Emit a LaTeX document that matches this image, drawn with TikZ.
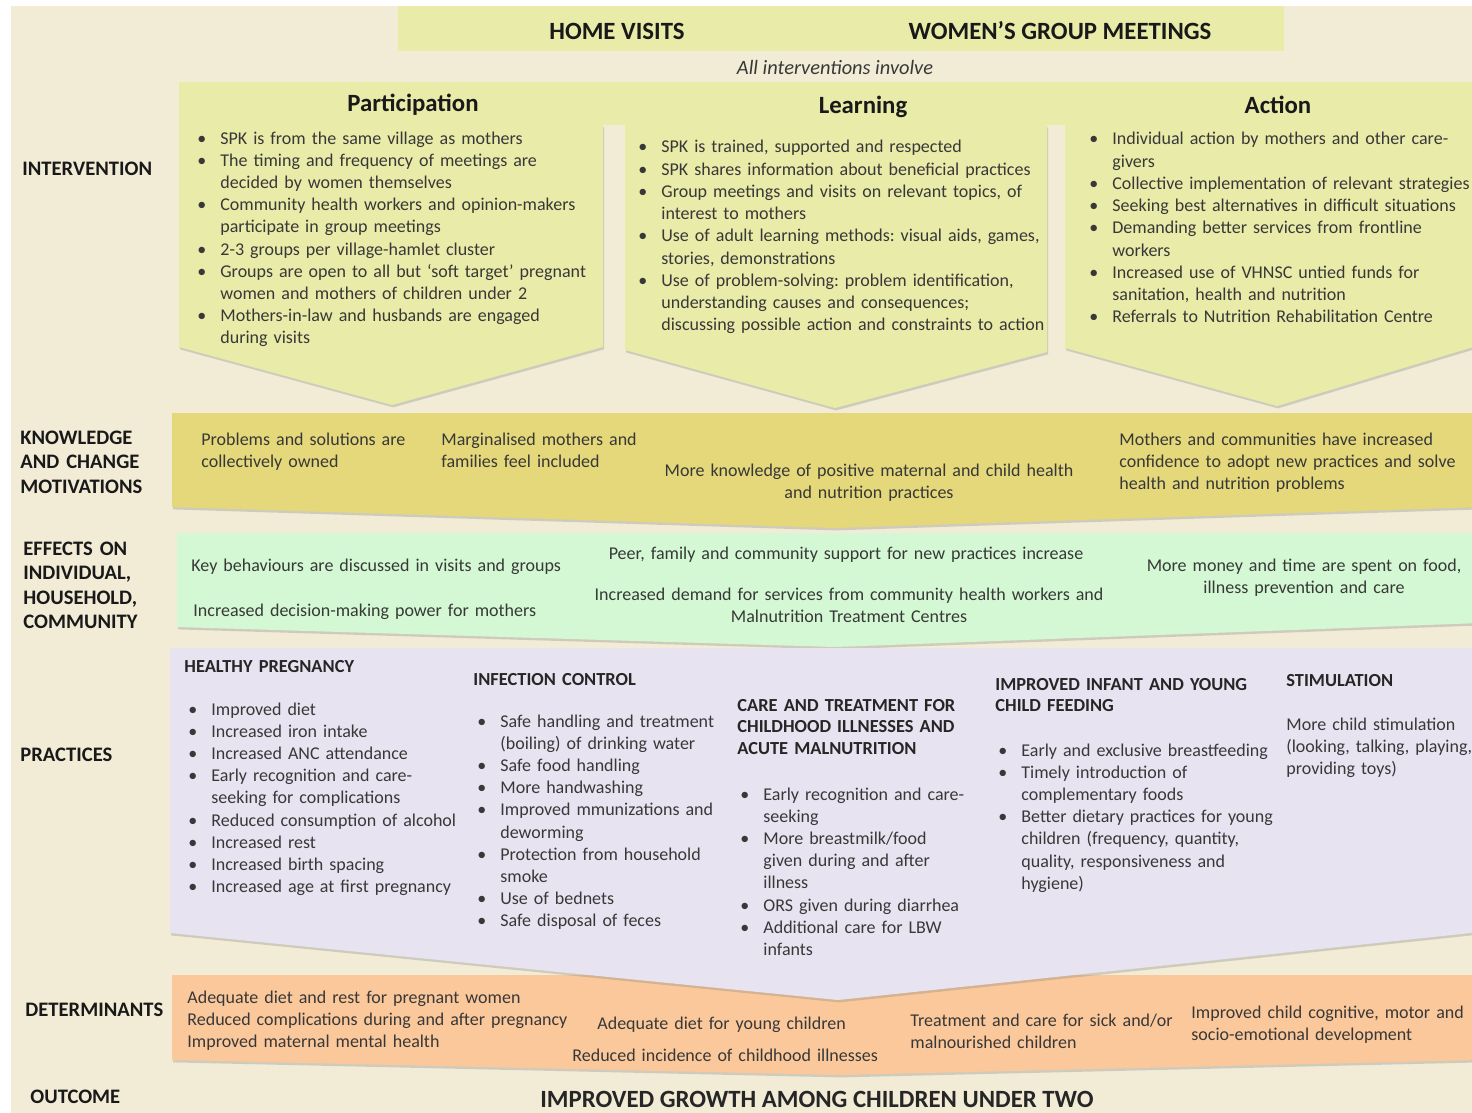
\documentclass[tikz,border=0pt]{standalone}
\usepackage{fontspec}
\setmainfont{Carlito}
\usetikzlibrary{shadows}
\frenchspacing

\definecolor{pagebg}{HTML}{F2ECD6}
\definecolor{visitbg}{HTML}{E9EBA8}
\definecolor{knowbg}{HTML}{E4D87A}
\definecolor{effectbg}{HTML}{D3F8D3}
\definecolor{practbg}{HTML}{E8E3F0}
\definecolor{detbg}{HTML}{FAC89B}
\definecolor{bodygrey}{HTML}{383838}

\newcommand{\bodysize}{\fontsize{9}{11.1}\selectfont}
\newcommand{\rowsize}{\fontsize{10.3}{12.25}\selectfont\bfseries}
\newcommand{\headsize}{\fontsize{9.2}{10.75}\selectfont\bfseries}
\newcommand{\bitem}[1]{\hangindent=11.5pt\hangafter=1\makebox[11.5pt][l]{\textbullet}#1\par}

\tikzset{
  txt/.style={font=\bodysize, text=bodygrey, inner sep=0pt, anchor=base west, align=left, text width=250pt},
  ctxt/.style={txt, anchor=base, align=center, text width=320pt},
  rowlabel/.style={font=\rowsize, text=black!90, inner sep=0pt, anchor=base west, align=left, text width=80pt},
  prachead/.style={font=\headsize, text=black!85, inner sep=0pt, anchor=base west, align=left, text width=150pt},
  bandtitle/.style={font=\fontsize{12.4}{14}\selectfont\bfseries, text=black!90, inner sep=0pt},
  bandshadow/.style={drop shadow={shadow xshift=0.5pt, shadow yshift=-1.2pt, opacity=0.3}},
}

\begin{document}
\begin{tikzpicture}[x=0.5pt, y=-0.5pt]
  \path[use as bounding box] (0,0) rectangle (1472,1113);
  \clip (0,0) rectangle (1472,1113);
  \fill[pagebg] (11,6) rectangle (1472,1113);

  % bands
  \fill[visitbg] (398,6) rectangle (1284,51);
  \fill[visitbg] (179,82) rectangle (1472,125);
  \fill[visitbg, bandshadow] (179,125) -- (603,125) -- (603,347) -- (392,405) -- (179,347) -- cycle;
  \fill[visitbg, bandshadow] (625,125) -- (1047,125) -- (1047,352) -- (835,408) -- (625,350) -- cycle;
  \fill[visitbg, bandshadow] (1065,125) -- (1480,125) -- (1480,345) -- (1277,406) -- (1065,348) -- cycle;
  \fill[knowbg, bandshadow] (172,413) -- (1480,413) -- (1480,507) -- (835,528) -- (172,507) -- cycle;
  \fill[effectbg, bandshadow] (177,533) -- (1480,533) -- (1480,623) -- (835,647) -- (177,627) -- cycle;
  \fill[detbg, bandshadow] (172,975) -- (1480,975) -- (1480,1060) -- (840,1075) -- (172,1060) -- cycle;
  \fill[practbg, bandshadow] (170,648) -- (1480,648) -- (1480,932) -- (838,1000) -- (170,933) -- cycle;

  % top
  \node[bandtitle] (home) at (617,31) {HOME VISITS};
  \node[bandtitle] (women) at (1060,31) {WOMEN’S GROUP MEETINGS};
  \node[font=\fontsize{10.2}{12}\selectfont\itshape, text=bodygrey, inner sep=0pt] (involve) at (835,67) {All interventions involve};
  \node[bandtitle] (particip) at (413,105) {Participation};
  \node[bandtitle] (learning) at (863,107) {Learning};
  \node[bandtitle] (action) at (1278,105) {Action};

  % row labels
  \node[rowlabel] (lintervention) at (22,176) {INTERVENTION};
  \node[rowlabel] (lknowledge) at (20,444) {KNOWLEDGE\newline AND CHANGE\newline MOTIVATIONS};
  \node[rowlabel] (leffects) at (23,555) {EFFECTS ON\newline INDIVIDUAL,\newline HOUSEHOLD,\newline COMMUNITY};
  \node[rowlabel] (lpractices) at (20,761) {PRACTICES};
  \node[rowlabel] (ldeterminants) at (25,1016) {DETERMINANTS};
  \node[rowlabel] (loutcome) at (30,1103) {OUTCOME};

  % intervention
  \node[txt] (participlist) at (197,144) {%
    \bitem{SPK is from the same village as mothers}
    \bitem{The timing and frequency of meetings are\newline decided by women themselves}
    \bitem{Community health workers and opinion-makers\newline participate in group meetings}
    \bitem{2-3 groups per village-hamlet cluster}
    \bitem{Groups are open to all but ‘soft target’ pregnant\newline women and mothers of children under 2}
    \bitem{Mothers-in-law and husbands are engaged\newline during visits}};
  \node[txt] (learninglist) at (638,153) {%
    \bitem{SPK is trained, supported and respected}
    \bitem{SPK shares information about beneficial practices}
    \bitem{Group meetings and visits on relevant topics, of\newline interest to mothers}
    \bitem{Use of adult learning methods: visual aids, games,\newline stories, demonstrations}
    \bitem{Use of problem-solving: problem identification,\newline understanding causes and consequences;\newline discussing possible action and constraints to action}};
  \node[txt] (actionlist) at (1089,145) {%
    \bitem{Individual action by mothers and other care-\newline givers}
    \bitem{Collective implementation of relevant strategies}
    \bitem{Seeking best alternatives in difficult situations}
    \bitem{Demanding better services from frontline\newline workers}
    \bitem{Increased use of VHNSC untied funds for\newline sanitation, health and nutrition}
    \bitem{Referrals to Nutrition Rehabilitation Centre}};

  % knowledge
  \node[txt] (owned) at (201,445) {Problems and solutions are\newline collectively owned};
  \node[txt] (included) at (441,445) {Marginalised mothers and\newline families feel included};
  \node[ctxt] (knowledge) at (869,476) {More knowledge of positive maternal and child health\\and nutrition practices};
  \node[txt] (confidence) at (1119,445) {Mothers and communities have increased\newline confidence to adopt new practices and solve\newline health and nutrition problems};

  % effects
  \node[txt] (discussed) at (191,571) {Key behaviours are discussed in visits and groups};
  \node[txt] (decision) at (193,616) {Increased decision-making power for mothers};
  \node[ctxt] (support) at (846,559) {Peer, family and community support for new practices increase};
  \node[ctxt] (demand) at (849,600) {Increased demand for services from community health workers and\\Malnutrition Treatment Centres};
  \node[ctxt] (money) at (1304,571) {More money and time are spent on food,\\illness prevention and care};

  % practices
  \node[prachead] (hpregnancy) at (184,672) {HEALTHY PREGNANCY};
  \node[txt] (pregnancylist) at (188,715) {%
    \bitem{Improved diet}
    \bitem{Increased iron intake}
    \bitem{Increased ANC attendance}
    \bitem{Early recognition and care-\newline seeking for complications}
    \bitem{Reduced consumption of alcohol}
    \bitem{Increased rest}
    \bitem{Increased birth spacing}
    \bitem{Increased age at first pregnancy}};
  \node[prachead] (hinfection) at (473,685) {INFECTION CONTROL};
  \node[txt] (infectionlist) at (477,727) {%
    \bitem{Safe handling and treatment\newline (boiling) of drinking water}
    \bitem{Safe food handling}
    \bitem{More handwashing}
    \bitem{Improved mmunizations and\newline deworming}
    \bitem{Protection from household\newline smoke}
    \bitem{Use of bednets}
    \bitem{Safe disposal of feces}};
  \node[prachead] (hcare) at (737,711) {CARE AND TREATMENT FOR\newline CHILDHOOD ILLNESSES AND\newline ACUTE MALNUTRITION};
  \node[txt] (carelist) at (740,800) {%
    \bitem{Early recognition and care-\newline seeking}
    \bitem{More breastmilk/food\newline given during and after\newline illness}
    \bitem{ORS given during diarrhea}
    \bitem{Additional care for LBW\newline infants}};
  \node[prachead] (hfeeding) at (995,690) {IMPROVED INFANT AND YOUNG\newline CHILD FEEDING};
  \node[txt] (feedinglist) at (998,756) {%
    \bitem{Early and exclusive breastfeeding}
    \bitem{Timely introduction of\newline complementary foods}
    \bitem{Better dietary practices for young\newline children (frequency, quantity,\newline quality, responsiveness and\newline hygiene)}};
  \node[prachead] (hstimulation) at (1286,686) {STIMULATION};
  \node[txt] (stimulation) at (1286,730) {More child stimulation\newline (looking, talking, playing,\newline providing toys)};

  % determinants
  \node[txt] (maternal) at (187,1003) {Adequate diet and rest for pregnant women\newline Reduced complications during and after pregnancy\newline Improved maternal mental health};
  \node[txt] (diet) at (597,1029) {Adequate diet for young children};
  \node[txt] (illness) at (572,1061) {Reduced incidence of childhood illnesses};
  \node[txt] (treatment) at (910,1026) {Treatment and care for sick and/or\newline malnourished children};
  \node[txt] (development) at (1191,1018) {Improved child cognitive, motor and\newline socio-emotional development};

  % outcome
  \node[font=\fontsize{12.4}{14}\selectfont\bfseries, text=black!85, inner sep=0pt] (growth) at (817,1099) {IMPROVED GROWTH AMONG CHILDREN UNDER TWO};
\end{tikzpicture}
\end{document}
